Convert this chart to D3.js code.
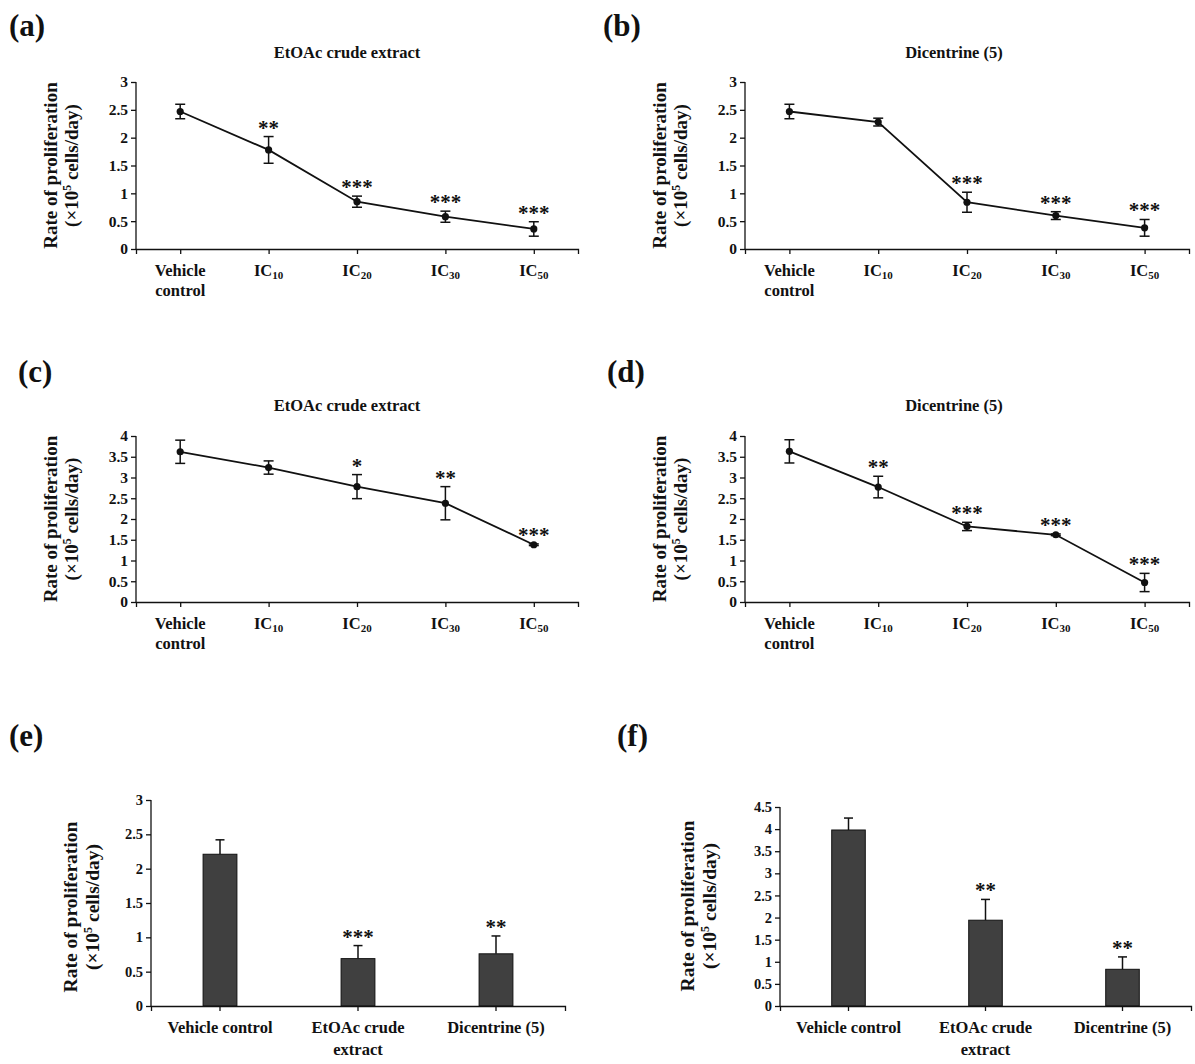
<!DOCTYPE html>
<html>
<head>
<meta charset="utf-8">
<script src="https://cdn.jsdelivr.net/npm/d3@7"></script>
<style>
  body { margin: 0; background: #fff; }
  svg text { font-family: "Liberation Serif", "Times New Roman", serif; font-weight: bold; fill: #111; }
</style>
</head>
<body>
<svg id="drawing_region"></svg>
<script>
// categories
const lineCategories = ["Vehicle control", "IC10", "IC20", "IC30", "IC50"];
const barCategories = ["Vehicle control", "EtOAc crude extract", "Dicentrine (5)"];

// (a) EtOAc crude extract
const aValues = [2.47, 1.78, 0.85, 0.58, 0.36];
const aErrors = [0.13, 0.24, 0.10, 0.10, 0.13];
const aStars  = ["", "**", "***", "***", "***"];
// (b) Dicentrine (5)
const bValues = [2.47, 2.28, 0.84, 0.60, 0.38];
const bErrors = [0.13, 0.07, 0.18, 0.07, 0.15];
const bStars  = ["", "", "***", "***", "***"];
// (c) EtOAc crude extract
const cValues = [3.62, 3.24, 2.78, 2.38, 1.38];
const cErrors = [0.28, 0.16, 0.29, 0.40, 0.02];
const cStars  = ["", "", "*", "**", "***"];
// (d) Dicentrine (5)
const dValues = [3.63, 2.77, 1.82, 1.62, 0.47];
const dErrors = [0.28, 0.26, 0.10, 0.02, 0.22];
const dStars  = ["", "**", "***", "***", "***"];
// (e) bars
const eValues = [2.21, 0.69, 0.76];
const eErrors = [0.21, 0.19, 0.26];
const eStars  = ["", "***", "**"];
// (f) bars
const fValues = [3.98, 1.94, 0.83];
const fErrors = [0.27, 0.47, 0.28];
const fStars  = ["", "**", "**"];

// tick labels
const ticks3  = [0, 0.5, 1, 1.5, 2, 2.5, 3];
const ticks4  = [0, 0.5, 1, 1.5, 2, 2.5, 3, 3.5, 4];
const ticks45 = [0, 0.5, 1, 1.5, 2, 2.5, 3, 3.5, 4, 4.5];

const svg = d3.select('#drawing_region')
    .attr('width', 1195)
    .attr('height', 1064);

function panelLabel(text, x, y) {
    svg.append('text').attr('x', x).attr('y', y)
        .attr('font-size', '31px').text(text);
}

function panelTitle(text, x, y) {
    svg.append('text').attr('x', x).attr('y', y)
        .attr('text-anchor', 'middle').attr('font-size', '16.5px').text(text);
}

function yLabel(x1, x2, cy, size) {
    const g = svg.append('g');
    g.append('text')
        .attr('transform', `translate(${x1},${cy}) rotate(-90)`)
        .attr('text-anchor', 'middle').attr('font-size', size + 'px')
        .text('Rate of proliferation');
    const t = g.append('text')
        .attr('transform', `translate(${x2},${cy}) rotate(-90)`)
        .attr('text-anchor', 'middle').attr('font-size', size + 'px');
    t.append('tspan').text('(×10');
    t.append('tspan').attr('dy', -7).attr('font-size', (size * 0.62) + 'px').text('5');
    t.append('tspan').attr('dy', 7).text(' cells/day)');
}

function yAxis(y, ticks, x0, size) {
    const g = svg.append('g')
        .attr('transform', `translate(${x0},0)`)
        .call(d3.axisLeft(y).tickValues(ticks).tickSize(5).tickSizeOuter(0).tickFormat(d => d));
    g.selectAll('path, line').attr('stroke', '#111').attr('stroke-width', 1.3);
    g.selectAll('text').attr('font-size', size + 'px').attr('fill', '#111')
        .attr('font-family', '"Liberation Serif", serif').attr('font-weight', 'bold');
    g.select('.domain').attr('d', `M0,${y.range()[0]}V${y.range()[1]}`);
}

function xAxis(x, y0, label, size) {
    const g = svg.append('g')
        .attr('transform', `translate(0,${y0})`)
        .call(d3.axisBottom(x).tickSize(5).tickSizeOuter(5).tickFormat(''));
    g.selectAll('path, line').attr('stroke', '#111').attr('stroke-width', 1.3);
    g.selectAll('.tick text').remove();
    const off = x.bandwidth ? x.bandwidth() / 2 : 0;
    x.domain().forEach(c => {
        const t = svg.append('text')
            .attr('x', x(c) + off).attr('y', y0 + 27)
            .attr('text-anchor', 'middle').attr('font-size', size + 'px');
        label(t, c, x(c) + off);
    });
}

// line panels: "Vehicle / control" and IC with subscript
function lineTick(t, c, cx) {
    const m = c.match(/^IC(\d+)$/);
    if (m) {
        t.append('tspan').text('IC');
        t.append('tspan').attr('dy', 3).attr('font-size', '11px').text(m[1]);
    } else {
        const w = c.split(' ');
        t.append('tspan').text(w[0]);
        t.append('tspan').attr('x', cx).attr('dy', 20).text(w.slice(1).join(' '));
    }
}

// bar panels: only the long label wraps
function barTick(t, c, cx) {
    if (c === 'EtOAc crude extract') {
        t.append('tspan').text('EtOAc crude');
        t.append('tspan').attr('x', cx).attr('dy', 22).text('extract');
    } else {
        t.text(c);
    }
}

function stars(data, cx, topY) {
    svg.append('g').selectAll('text').data(data).enter().append('text')
        .attr('x', cx).attr('y', d => topY(d) - 2)
        .attr('text-anchor', 'middle').attr('font-size', '21px')
        .text(d => d.s);
}

function linePanel(cfg) {
    panelLabel(cfg.label, cfg.lx, cfg.ly);
    panelTitle(cfg.title, cfg.tx, cfg.ty);
    yLabel(cfg.x0 - 79, cfg.x0 - 58, (cfg.y0 + cfg.y1) / 2, 19);

    const x = d3.scalePoint().domain(lineCategories).range([cfg.x0, cfg.x1]).padding(0.5);
    const y = d3.scaleLinear().domain([0, cfg.ymax]).range([cfg.y0, cfg.y1]);

    yAxis(y, cfg.ticks, cfg.x0, 15.5);
    xAxis(x, cfg.y0, lineTick, 16.5);

    const data = lineCategories.map((c, i) => ({c, v: cfg.values[i], e: cfg.errors[i], s: cfg.stars[i]}));

    const line = d3.line().x(d => x(d.c)).y(d => y(d.v));
    svg.append('path').datum(data).attr('d', line)
        .attr('fill', 'none').attr('stroke', '#111').attr('stroke-width', 1.8);

    const eb = svg.append('g').attr('stroke', '#111').attr('stroke-width', 1.5);
    eb.selectAll('.v').data(data).enter().append('line')
        .attr('x1', d => x(d.c)).attr('x2', d => x(d.c))
        .attr('y1', d => y(d.v - d.e)).attr('y2', d => y(d.v + d.e));
    eb.selectAll('.t').data(data).enter().append('line')
        .attr('x1', d => x(d.c) - 5).attr('x2', d => x(d.c) + 5)
        .attr('y1', d => y(d.v + d.e)).attr('y2', d => y(d.v + d.e));
    eb.selectAll('.b').data(data).enter().append('line')
        .attr('x1', d => x(d.c) - 5).attr('x2', d => x(d.c) + 5)
        .attr('y1', d => y(d.v - d.e)).attr('y2', d => y(d.v - d.e));

    svg.append('g').selectAll('circle').data(data).enter().append('circle')
        .attr('cx', d => x(d.c)).attr('cy', d => y(d.v)).attr('r', 3.6).attr('fill', '#111');

    stars(data, d => x(d.c), d => y(d.v + d.e));
}

function barPanel(cfg) {
    panelLabel(cfg.label, cfg.lx, cfg.ly);
    yLabel(cfg.ylx, cfg.ylx + 22, cfg.ylc, 19.5);

    const x = d3.scaleBand().domain(barCategories).range([cfg.x0, cfg.x1]);
    const y = d3.scaleLinear().domain([0, cfg.ymax]).range([cfg.y0, cfg.y1]);
    const bw = x.bandwidth() * 0.245;

    const data = barCategories.map((c, i) => ({c, v: cfg.values[i], e: cfg.errors[i], s: cfg.stars[i]}));
    const cx = d => x(d.c) + x.bandwidth() / 2;

    const eb = svg.append('g').attr('stroke', '#111').attr('stroke-width', 1.5);
    eb.selectAll('.v').data(data).enter().append('line')
        .attr('x1', cx).attr('x2', cx)
        .attr('y1', d => y(d.v)).attr('y2', d => y(d.v + d.e));
    eb.selectAll('.t').data(data).enter().append('line')
        .attr('x1', d => cx(d) - 4.5).attr('x2', d => cx(d) + 4.5)
        .attr('y1', d => y(d.v + d.e)).attr('y2', d => y(d.v + d.e));

    svg.append('g').selectAll('rect').data(data).enter().append('rect')
        .attr('x', d => cx(d) - bw / 2).attr('width', bw)
        .attr('y', d => y(d.v)).attr('height', d => y(0) - y(d.v))
        .attr('fill', '#404040').attr('stroke', '#111').attr('stroke-width', 1);

    yAxis(y, cfg.ticks, cfg.x0, 14.5);
    xAxis(x, cfg.y0, barTick, 16.5);

    stars(data, cx, d => y(d.v + d.e));
}

linePanel({label: '(a)', lx: 9, ly: 36, title: 'EtOAc crude extract', tx: 347, ty: 58,
    x0: 136, x1: 578, y0: 249, y1: 82, ymax: 3, ticks: ticks3,
    values: aValues, errors: aErrors, stars: aStars});
linePanel({label: '(b)', lx: 603, ly: 36, title: 'Dicentrine (5)', tx: 954, ty: 58,
    x0: 745, x1: 1189, y0: 249, y1: 82, ymax: 3, ticks: ticks3,
    values: bValues, errors: bErrors, stars: bStars});
linePanel({label: '(c)', lx: 18, ly: 382, title: 'EtOAc crude extract', tx: 347, ty: 411,
    x0: 136, x1: 578, y0: 602, y1: 436, ymax: 4, ticks: ticks4,
    values: cValues, errors: cErrors, stars: cStars});
linePanel({label: '(d)', lx: 607, ly: 382, title: 'Dicentrine (5)', tx: 954, ty: 411,
    x0: 745, x1: 1189, y0: 602, y1: 436, ymax: 4, ticks: ticks4,
    values: dValues, errors: dErrors, stars: dStars});
barPanel({label: '(e)', lx: 9, ly: 746, ylx: 77, ylc: 907,
    x0: 151, x1: 565, y0: 1006, y1: 800, ymax: 3, ticks: ticks3,
    values: eValues, errors: eErrors, stars: eStars});
barPanel({label: '(f)', lx: 617, ly: 746, ylx: 694, ylc: 906,
    x0: 780, x1: 1191, y0: 1006, y1: 807, ymax: 4.5, ticks: ticks45,
    values: fValues, errors: fErrors, stars: fStars});
</script>
</body>
</html>
